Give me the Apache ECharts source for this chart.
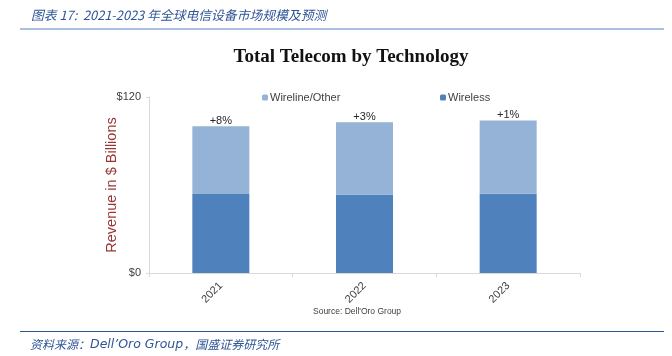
<!DOCTYPE html>
<html>
<head>
<meta charset="utf-8">
<script src="https://cdn.jsdelivr.net/npm/echarts@6/dist/echarts.min.js"></script>
<style>
html,body{margin:0;padding:0;background:#fff;}
#c{width:672px;height:356px;}
</style>
</head>
<body>
<div id="c"></div>
<script>
const years = ['2021', '2022', '2023'];
const wireless = [53.9, 53.6, 54.1];
const wireline = [46.1, 49.2, 49.9];
const growthLabels = ['+8%', '+3%', '+1%'];
const headerText = '图表 17:  2021-2023 年全球电信设备市场规模及预测';
const footerCn1 = '资料来源：';
const footerEn = 'Dell’Oro Group';
const footerCn2 = '，国盛证券研究所';

const chart = echarts.init(document.getElementById('c'));
chart.setOption({
  animation: false,
  backgroundColor: '#ffffff',
  title: {
    text: 'Total Telecom by Technology',
    left: 351, top: 48, textAlign: 'center', padding: 0,
    textStyle: {fontFamily: 'Liberation Serif', fontWeight: 'bold', fontSize: 19, color: '#111'}
  },
  legend: [
    {data: ['Wireline/Other'], left: 262, top: 92, padding: 0, itemWidth: 6, itemHeight: 6, itemGap: 4,
     textStyle: {fontFamily: 'Liberation Sans', fontSize: 11, color: '#404040', padding: [0,0,0,-3]}},
    {data: ['Wireless'], left: 440, top: 92, padding: 0, itemWidth: 6, itemHeight: 6, itemGap: 4,
     textStyle: {fontFamily: 'Liberation Sans', fontSize: 11, color: '#404040', padding: [0,0,0,-3]}}
  ],
  grid: {left: 149, right: 92, top: 97, bottom: 83, containLabel: false},
  xAxis: {
    type: 'category', data: years,
    axisLine: {lineStyle: {color: '#d9d9d9', width: 1}},
    axisTick: {show: true, alignWithLabel: false, length: 4, lineStyle: {color: '#d9d9d9'}},
    axisLabel: {rotate: 45, margin: 11, fontFamily: 'Liberation Sans', fontSize: 11, color: '#404040'}
  },
  yAxis: {
    type: 'value', min: 0, max: 120, interval: 120,
    name: 'Revenue in $ Billions', nameLocation: 'middle', nameGap: 30, nameRotate: 90,
    nameMoveOverlap: false,
    nameTextStyle: {fontFamily: 'Liberation Sans', fontSize: 14.5, color: '#953735'},
    axisLine: {show: true, lineStyle: {color: '#d9d9d9'}},
    axisTick: {show: true, length: 3, lineStyle: {color: '#d9d9d9'}},
    splitLine: {show: false},
    axisLabel: {margin: 8, fontFamily: 'Liberation Sans', fontSize: 11, color: '#404040',
      formatter: v => '$' + v}
  },
  series: [
    {name: 'Wireless', type: 'bar', stack: 'total', data: wireless, barWidth: 57,
     itemStyle: {color: '#4F81BD'}},
    {name: 'Wireline/Other', type: 'bar', stack: 'total', data: wireline, barWidth: 57,
     itemStyle: {color: '#95B3D7'},
     label: {show: true, position: 'top', distance: 0, fontFamily: 'Liberation Sans', fontSize: 11, color: '#262626',
       formatter: p => growthLabels[p.dataIndex]}}
  ],
  graphic: [
    {type: 'text', left: 31, top: 9, style: {text: headerText, fontFamily: 'Noto Sans CJK SC', fontStyle: 'italic', fontSize: 12.8, fill: '#2F5597'}},
    {type: 'line', shape: {x1: 20, y1: 29, x2: 664, y2: 29}, style: {stroke: '#8EAADB', lineWidth: 1.5}},
    {type: 'text', left: 313, top: 307, style: {text: 'Source: Dell\'Oro Group', fontFamily: 'Liberation Sans', fontSize: 8.5, fill: '#404040'}},
    {type: 'line', shape: {x1: 20, y1: 331.5, x2: 664, y2: 331.5}, style: {stroke: '#2F5597', lineWidth: 1.2}},
    {type: 'text', left: 30, top: 338, style: {
      text: '{cn|' + footerCn1 + '}{en|' + footerEn + '}{cn|' + footerCn2 + '}',
      rich: {
        cn: {fontFamily: 'Noto Sans CJK SC', fontStyle: 'italic', fontSize: 12, fill: '#2F5597'},
        en: {fontFamily: 'DejaVu Sans', fontStyle: 'italic', fontSize: 12.5, fill: '#2F5597'}
      }}}
  ]
});
</script>
</body>
</html>
